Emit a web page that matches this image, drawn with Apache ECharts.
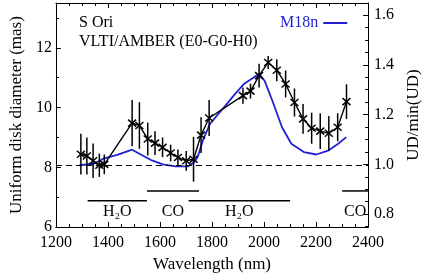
<!DOCTYPE html>
<html>
<head>
<meta charset="utf-8">
<script src="https://cdn.jsdelivr.net/npm/echarts@6/dist/echarts.min.js"></script>
<style>
  html, body { margin: 0; padding: 0; background: #fff; }
  #main { width: 430px; height: 278px; }
</style>
</head>
<body>
<div id="main"></div>
<script>
// measured UD diameters (mas) with error bars
var waves = [1296, 1319, 1343, 1367, 1386, 1493, 1521, 1553, 1581, 1610, 1641, 1669, 1701, 1729, 1758, 1789,
  1919, 1948, 1981, 2016, 2049, 2083, 2117, 2150, 2183, 2216, 2249, 2283, 2317];
var diam = [8.44, 8.38, 8.22, 8.07, 8.1, 9.48, 9.4, 8.95, 8.81, 8.67, 8.48, 8.33, 8.22, 8.27, 9.08, 9.65,
  10.4, 10.55, 11.07, 11.51, 11.25, 10.79, 10.17, 9.62, 9.31, 9.21, 9.14, 9.34, 10.2];
var diamErr = [0.68, 0.62, 0.58, 0.39, 0.33, 0.77, 0.78, 0.55, 0.4, 0.33, 0.28, 0.27, 0.33, 0.75, 0.6, 0.6,
  0.27, 0.25, 0.4, 0.22, 0.37, 0.45, 0.47, 0.5, 0.52, 0.6, 0.58, 0.47, 0.58];

// M18n model curve
var modelWave = [1290, 1346, 1382, 1436, 1493, 1526, 1569, 1611, 1659, 1707, 1731, 1745, 1765, 1792, 1825,
  1850, 1888, 1924, 1960, 1982, 2002, 2032, 2069, 2105, 2153, 2201, 2249, 2285, 2316];
var modelDiam = [8.07, 8.12, 8.29, 8.42, 8.59, 8.43, 8.23, 8.1, 8.03, 8.03, 8.17, 8.35, 8.9, 9.45, 9.8,
  10.05, 10.45, 10.8, 11.01, 11.12, 10.9, 10.23, 9.34, 8.79, 8.51, 8.43, 8.57, 8.79, 9.01];

// molecular bands
var bandStart = [1322, 1550, 1710, 2300];
var bandEnd = [1550, 1750, 2100, 2400];
var bandLevel = [6.88, 7.21, 6.88, 7.21];
var bandName = ['H₂O', 'CO', 'H₂O', 'CO'];
var bandLabelLevel = 6.5;

var refLevel = 8.07;   // min(UD), dashed line

var xTicks = [1200, 1400, 1600, 1800, 2000, 2200, 2400];
var leftTicks = [6, 8, 10, 12];
var leftMinor = [7, 9, 11, 13];
var rightTicks = [0.8, 1.0, 1.2, 1.4, 1.6];

var FONT = '"Liberation Serif", "DejaVu Serif", serif';
var BLUE = '#2121d6';

var rightMinor = [];
for (var k = 15; k <= 33; k++) {
  if (k % 4 !== 0) rightMinor.push(k / 20);
}

var myChart = echarts.init(document.getElementById('main'));

var points = waves.map(function (w, i) { return [w, diam[i], diamErr[i]]; });
var bands = bandStart.map(function (s, i) { return [s, bandEnd[i], bandLevel[i], i]; });

function errRender(params, api) {
  var x = api.value(0), y = api.value(1), e = api.value(2);
  var top = api.coord([x, y + e]);
  var bot = api.coord([x, y - e]);
  var c = api.coord([x, y]);
  var sx = 4, sy = 3.5;
  var st = { stroke: '#000', lineWidth: 1.5 };
  return {
    type: 'group',
    children: [
      { type: 'line', shape: { x1: top[0], y1: top[1], x2: bot[0], y2: bot[1] }, style: st },
      { type: 'line', shape: { x1: c[0] - sx, y1: c[1] - sy, x2: c[0] + sx, y2: c[1] + sy }, style: st },
      { type: 'line', shape: { x1: c[0] - sx, y1: c[1] + sy, x2: c[0] + sx, y2: c[1] - sy }, style: st }
    ]
  };
}

function bandRender(params, api) {
  var a = api.coord([api.value(0), api.value(2)]);
  var b = api.coord([api.value(1), api.value(2)]);
  var t = api.coord([(api.value(0) + api.value(1)) / 2, bandLabelLevel]);
  return {
    type: 'group',
    children: [
      { type: 'line', shape: { x1: a[0], y1: a[1], x2: b[0], y2: b[1] }, style: { stroke: '#000', lineWidth: 1.5 } },
      { type: 'text', style: { text: bandName[api.value(3)], x: t[0], y: t[1], align: 'center', verticalAlign: 'middle',
        fontSize: 16, fontFamily: FONT, fill: '#000' } }
    ]
  };
}

var option = {
  animation: false,
  textStyle: { fontFamily: FONT },
  title: {
    text: 'S Ori\nVLTI/AMBER (E0-G0-H0)',
    left: 79,
    top: 13,
    padding: 0,
    textStyle: { fontSize: 16, fontWeight: 'normal', fontFamily: FONT, color: '#000', lineHeight: 19 }
  },
  legend: {
    data: ['M18n'],
    left: 280,
    top: 15,
    padding: 0,
    align: 'right',
    icon: 'rect',
    itemWidth: 24,
    itemHeight: 2,
    textStyle: { color: BLUE, fontSize: 16, fontFamily: FONT }
  },
  grid: { left: 53, right: 45, top: 3, bottom: 50 },
  xAxis: [{
    type: 'value',
    min: 1200, max: 2400, interval: 200,
    name: 'Wavelength (nm)',
    nameLocation: 'middle',
    nameGap: 27,
    nameTextStyle: { fontSize: 17, color: '#000', fontFamily: FONT },
    axisLine: { lineStyle: { color: '#000', width: 1 } },
    axisTick: { inside: true, length: 5, lineStyle: { color: '#000' } },
    minorTick: { show: true, splitNumber: 4, length: 3, lineStyle: { color: '#000' } },
    axisLabel: {
      fontSize: 16, color: '#000', margin: 8, fontFamily: FONT, customValues: xTicks,
      formatter: function (v) { return String(v); }
    },
    splitLine: { show: false }
  }, {
    type: 'value',
    position: 'top',
    min: 1200, max: 2400, interval: 200,
    axisLine: { lineStyle: { color: '#000', width: 1 } },
    axisTick: { inside: true, length: 5, lineStyle: { color: '#000' } },
    minorTick: { show: true, splitNumber: 4, length: 3, lineStyle: { color: '#000' } },
    axisLabel: { show: false },
    splitLine: { show: false }
  }],
  yAxis: [{
    type: 'value',
    position: 'left',
    min: 6, max: 13.5,
    name: 'Uniform disk diameter (mas)',
    nameLocation: 'middle',
    nameRotate: 90,
    nameGap: 28,
    nameTextStyle: { fontSize: 17, color: '#000', fontFamily: FONT },
    axisLine: { lineStyle: { color: '#000', width: 1 } },
    axisTick: { inside: true, length: 5, customValues: leftTicks, lineStyle: { color: '#000' } },
    axisLabel: { fontSize: 16, color: '#000', margin: 4, fontFamily: FONT, customValues: leftTicks },
    splitLine: { show: false }
  }, {
    type: 'value',
    position: 'right',
    min: 0.748, max: 1.648,
    name: 'UD/min(UD)',
    nameLocation: 'middle',
    nameRotate: 90,
    nameGap: 27,
    nameTextStyle: { fontSize: 17, color: '#000', fontFamily: FONT },
    axisLine: { lineStyle: { color: '#000', width: 1 } },
    axisTick: { inside: true, length: 5, customValues: rightTicks, lineStyle: { color: '#000' } },
    axisLabel: {
      fontSize: 16, color: '#000', margin: 6, fontFamily: FONT, customValues: rightTicks,
      formatter: function (v) { return v.toFixed(1); }
    },
    splitLine: { show: false }
  }, {
    type: 'value',
    position: 'left',
    min: 6, max: 13.5,
    axisLine: { show: false },
    axisTick: { inside: true, length: 3, customValues: leftMinor, lineStyle: { color: '#000' } },
    axisLabel: { show: false },
    splitLine: { show: false }
  }, {
    type: 'value',
    position: 'right',
    min: 0.748, max: 1.648,
    axisLine: { show: false },
    axisTick: { inside: true, length: 3, customValues: rightMinor, lineStyle: { color: '#000' } },
    axisLabel: { show: false },
    splitLine: { show: false }
  }],
  series: [{
    name: 'M18n',
    type: 'line',
    data: modelWave.map(function (w, i) { return [w, modelDiam[i]]; }),
    symbol: 'none',
    lineStyle: { color: BLUE, width: 1.8 },
    itemStyle: { color: BLUE },
    z: 2
  }, {
    name: 'UD',
    type: 'line',
    data: waves.map(function (w, i) { return [w, diam[i]]; }),
    symbol: 'none',
    lineStyle: { color: '#000', width: 1.4 },
    z: 3,
    markLine: {
      silent: true,
      symbol: 'none',
      label: { show: false },
      lineStyle: { color: '#000', width: 1.2, type: [6, 4] },
      data: [{ yAxis: refLevel }]
    }
  }, {
    name: 'err',
    type: 'custom',
    data: points,
    renderItem: errRender,
    z: 4
  }, {
    name: 'bands',
    type: 'custom',
    data: bands,
    renderItem: bandRender,
    z: 4
  }]
};

myChart.setOption(option);
</script>
</body>
</html>
